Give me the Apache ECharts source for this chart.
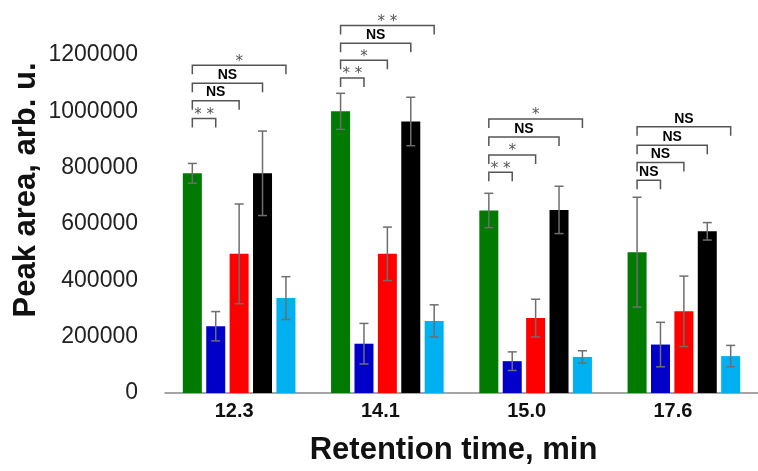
<!DOCTYPE html>
<html>
<head>
<meta charset="utf-8">
<script src="https://cdn.jsdelivr.net/npm/echarts@6/dist/echarts.min.js"></script>
<style>
  html, body { margin: 0; padding: 0; background: #fff; }
  #chart { width: 758px; height: 471px; }
</style>
</head>
<body>
<div id="chart"></div>
<script>
// // DATA
const categories = ["12.3", "14.1", "15.0", "17.6"];
const bar_colors = ["#007a00", "#0000c8", "#ff0000", "#000000", "#00b0f0"];

const green = [780000, 1000000, 648000, 500000];
const green_err = [35000, 64000, 61000, 195000];
const blue = [237000, 175000, 113000, 172000];
const blue_err = [52000, 72000, 33000, 79000];
const red = [494000, 494000, 266000, 290000];
const red_err = [177000, 95000, 67000, 125000];
const black = [780000, 964000, 650000, 574000];
const black_err = [150000, 86000, 84000, 31000];
const light_blue = [337000, 256000, 128000, 131000];
const light_blue_err = [76000, 57000, 22000, 38000];

// significance brackets: green bar of each group vs bars 1..4
const bracket_levels = [
  [975000, 1038000, 1100000, 1164000],
  [1118000, 1181000, 1242000, 1305000],
  [784000, 845000, 909000, 973000],
  [755000, 818000, 880000, 945000]
];
const bracket_labels = [
  ["* *", "NS", "NS", "*"],
  ["* *", "*", "NS", "* *"],
  ["* *", "*", "NS", "*"],
  ["NS", "NS", "NS", "NS"]
];

const y_ticks = { min: 0, max: 1200000, interval: 200000 };

// // LAYOUT
const BAR_W = 19;
const BAR_STEP = 23.4;
const barOffset = (i) => (i - 2) * BAR_STEP;

const values = [green, blue, red, black, light_blue];
const errors = [green_err, blue_err, red_err, black_err, light_blue_err];

function errorSeries(i) {
  return {
    type: "custom",
    xAxisIndex: 0, yAxisIndex: 0,
    clip: false,
    z: 5,
    data: values[i].map((v, c) => [c, v - errors[i][c], v + errors[i][c]]),
    renderItem: function (params, api) {
      const lo = api.coord([api.value(0), api.value(1)]);
      const hi = api.coord([api.value(0), api.value(2)]);
      const x = lo[0] + barOffset(i);
      const style = { stroke: "#6e6e6e", lineWidth: 1.5, fill: null };
      return {
        type: "group",
        children: [
          { type: "line", shape: { x1: x, y1: lo[1], x2: x, y2: hi[1] }, style },
          { type: "line", shape: { x1: x - 4.5, y1: hi[1], x2: x + 4.5, y2: hi[1] }, style },
          { type: "line", shape: { x1: x - 4.5, y1: lo[1], x2: x + 4.5, y2: lo[1] }, style }
        ]
      };
    }
  };
}

function bracketData() {
  const out = [];
  bracket_levels.forEach((levels, c) => {
    levels.forEach((lvl, k) => out.push([c, k + 1, lvl]));
  });
  return out;
}

const bracketSeries = {
  type: "custom",
  xAxisIndex: 0, yAxisIndex: 0,
  clip: false,
  z: 6,
  data: bracketData(),
  renderItem: function (params, api) {
    const p = api.coord([api.value(0), api.value(2)]);
    const x1 = p[0] + barOffset(0);
    const x2 = p[0] + barOffset(api.value(1));
    const y = p[1];
    const label = bracket_labels[api.value(0)][api.value(1) - 1];
    const isStar = label.indexOf("*") >= 0;
    return {
      type: "group",
      children: [
        {
          type: "polyline",
          shape: { points: [[x1, y + 9], [x1, y], [x2, y], [x2, y + 9]] },
          style: { stroke: "#555", lineWidth: 1.5, fill: null }
        },
        {
          type: "text",
          style: {
            x: (x1 + x2) / 2, y: isStar ? y + 4 : y - 1,
            text: label,
            textAlign: "center", textVerticalAlign: "bottom",
            fill: isStar ? "#555" : "#000",
            font: isStar ? "15px 'DejaVu Sans'" : "bold 14px 'Liberation Sans'"
          }
        }
      ]
    };
  }
};

const chart = echarts.init(document.getElementById("chart"), null, { renderer: "canvas" });

chart.setOption({
  animation: false,
  backgroundColor: "#fff",
  textStyle: { fontFamily: "'Liberation Sans', Arial, sans-serif" },
  grid: [
    { left: 165, top: 55, width: 604, height: 338 },
    { left: 161, top: 55, width: 585, height: 338 }
  ],
  xAxis: [
    {
      type: "category", gridIndex: 0, data: categories,
      axisLine: { lineStyle: { color: "#888", width: 1.5 } },
      axisTick: { show: false },
      axisLabel: { show: false }
    },
    {
      type: "category", gridIndex: 1, data: categories,
      axisLine: { show: false }, axisTick: { show: false },
      axisLabel: { margin: 16, fontSize: 20, fontWeight: "bold", color: "#111" },
      name: "Retention time, min",
      nameLocation: "middle", nameGap: 50,
      nameTextStyle: { fontSize: 31, fontWeight: "bold", color: "#111" }
    }
  ],
  yAxis: [
    {
      type: "value", gridIndex: 0,
      min: y_ticks.min, max: y_ticks.max, interval: y_ticks.interval,
      axisLine: { show: false }, axisTick: { show: false },
      splitLine: { show: false },
      axisLabel: { margin: 27, fontSize: 23, color: "#222", formatter: (v) => String(v) }
    },
    { type: "value", gridIndex: 1, show: false, min: 0, max: 1 }
  ],
  graphic: [{
    type: "text",
    x: 26, y: 190,
    rotation: Math.PI / 2,
    style: {
      text: "Peak area, arb. u.",
      textAlign: "center", textVerticalAlign: "middle",
      font: "bold 31px 'Liberation Sans'", fill: "#111"
    }
  }],
  series: [
    ...values.map((v, i) => ({
      type: "bar", data: v, barWidth: BAR_W, barGap: ((BAR_STEP - BAR_W) / BAR_W * 100) + "%",
      itemStyle: { color: bar_colors[i] }
    })),
    ...values.map((v, i) => errorSeries(i)),
    bracketSeries
  ]
});
</script>
</body>
</html>
